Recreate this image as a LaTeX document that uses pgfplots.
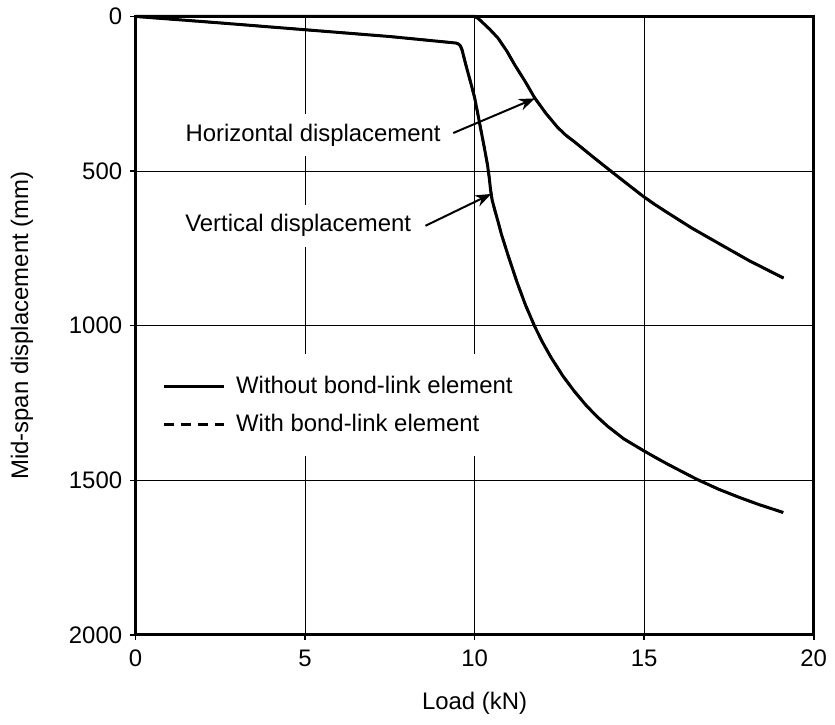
\documentclass[border=0pt]{standalone}
\usepackage{fontspec}
\setmainfont{Liberation Sans}
\usepackage{pgfplots}
\pgfplotsset{compat=1.18}
\usetikzlibrary{arrows.meta}

\begin{document}
\fontsize{12}{14}\selectfont
\begin{tikzpicture}
\begin{axis}[
    name=ax,
    scale only axis,
    width=340.5pt, height=310.5pt,
    xmin=0, xmax=20, ymin=0, ymax=2000,
    y dir=reverse,
    xtick={0,5,10,15,20}, ytick={0,500,1000,1500,2000},
    /pgf/number format/assume math mode=true,
    /pgf/number format/set thousands separator={},
    tick align=outside, tick pos=left,
    major tick length=2.5pt,
    tick style={black, line width=0.8pt},
    axis line style={line width=1.5pt},
    grid=major,
    major grid style={black, line width=0.5pt},
    ticklabel style={font=\fontsize{12}{14}\selectfont},
    xticklabel style={yshift=-1pt},
    xlabel={Load (kN)},
    ylabel={Mid-span displacement (mm)},
    label style={font=\fontsize{12}{14}\selectfont},
    xlabel style={at={(axis description cs:0.5,-0.111)}, anchor=center},
    ylabel style={at={(axis description cs:-0.1674,0.5)}, anchor=center},
    clip=false,
    legend style={at={(axis cs:0.55,1090)}, anchor=north west, draw=none, fill=white,
        row sep=4.5pt, inner xsep=4pt, inner ysep=9pt, font=\fontsize{12}{14}\selectfont},
    legend cell align=left,
    legend image code/.code={\draw[#1] (0pt,0pt) -- (30pt,0pt); \path (33.5pt,0pt);},
    every axis plot/.append style={line width=1.5pt, black},
]

% with bond-link element (dashed): coincides with the solid curves, drawn underneath
\addplot[line width=1.2pt, dash pattern=on 5pt off 3.5pt, forget plot] coordinates {
    (0,0) (2.5,21) (5,43) (7.5,65) (9.45,86) (9.52,89) (9.58,95) (9.63,108) (9.68,130)
    (9.76,164) (9.88,212) (10.0,262) (10.1,318) (10.2,375) (10.3,432) (10.38,480)
    (10.43,520) (10.47,560) (10.52,595) (10.6,628) (10.7,667) (10.79,704) (11.0,777)
    (11.25,859) (11.5,933) (11.77,1002) (12.0,1053) (12.25,1102) (12.6,1162) (12.94,1212)
    (13.3,1259) (13.63,1296) (13.92,1325) (14.4,1366) (14.95,1402) (15.3,1424) (15.68,1447)
    (16.1,1471) (16.56,1497) (17.2,1529) (17.8,1555) (18.4,1579) (18.96,1599) (19.1,1604)
};
\addplot[line width=1.2pt, dash pattern=on 5pt off 3.5pt, forget plot] coordinates {
    (0,0) (10,0) (10.1,6) (10.2,16) (10.45,42) (10.69,70) (10.95,112) (11.18,156)
    (11.5,212) (11.77,263) (12.1,313) (12.45,359) (12.7,385) (12.94,405) (13.5,455)
    (14.12,509) (14.95,580) (15.3,607) (15.68,634) (16.4,684) (17.15,731)
    (18.1,790) (19.11,846)
};

% without bond-link element
\addplot[forget plot] coordinates {
    (0,0) (2.5,21) (5,43) (7.5,65) (9.45,86) (9.52,89) (9.58,95) (9.63,108) (9.68,130)
    (9.76,164) (9.88,212) (10.0,262) (10.1,318) (10.2,375) (10.3,432) (10.38,480)
    (10.43,520) (10.47,560) (10.52,595) (10.6,628) (10.7,667) (10.79,704) (11.0,777)
    (11.25,859) (11.5,933) (11.77,1002) (12.0,1053) (12.25,1102) (12.6,1162) (12.94,1212)
    (13.3,1259) (13.63,1296) (13.92,1325) (14.4,1366) (14.95,1402) (15.3,1424) (15.68,1447)
    (16.1,1471) (16.56,1497) (17.2,1529) (17.8,1555) (18.4,1579) (18.96,1599) (19.1,1604)
};
\addplot[forget plot] coordinates {
    (0,0) (10,0) (10.1,6) (10.2,16) (10.45,42) (10.69,70) (10.95,112) (11.18,156)
    (11.5,212) (11.77,263) (12.1,313) (12.45,359) (12.7,385) (12.94,405) (13.5,455)
    (14.12,509) (14.95,580) (15.3,607) (15.68,634) (16.4,684) (17.15,731)
    (18.1,790) (19.11,846)
};

\addlegendimage{black, line width=1.5pt}
\addlegendentry{Without bond-link element}
\addlegendimage{black, line width=1.5pt, dash pattern=on 5pt off 3.5pt}
\addlegendentry{With bond-link element}

% annotations
\node[fill=white, inner xsep=1pt, inner ysep=5pt, anchor=east] at (axis cs:9.07,384) {Horizontal displacement};
\node[fill=white, inner xsep=1pt, inner ysep=5pt, anchor=east] at (axis cs:8.2,677) {Vertical displacement};
\draw[line width=1pt, -{Stealth[length=8pt, width=6pt]}] (axis cs:9.37,377) -- (axis cs:11.78,265);
\draw[line width=1pt, -{Stealth[length=8pt, width=6pt]}] (axis cs:8.55,677) -- (axis cs:10.49,574);
\end{axis}
\path ([xshift=-68pt, yshift=-45pt]ax.south west) rectangle ([xshift=9pt, yshift=7.5pt]ax.north east);
\end{tikzpicture}
\end{document}
